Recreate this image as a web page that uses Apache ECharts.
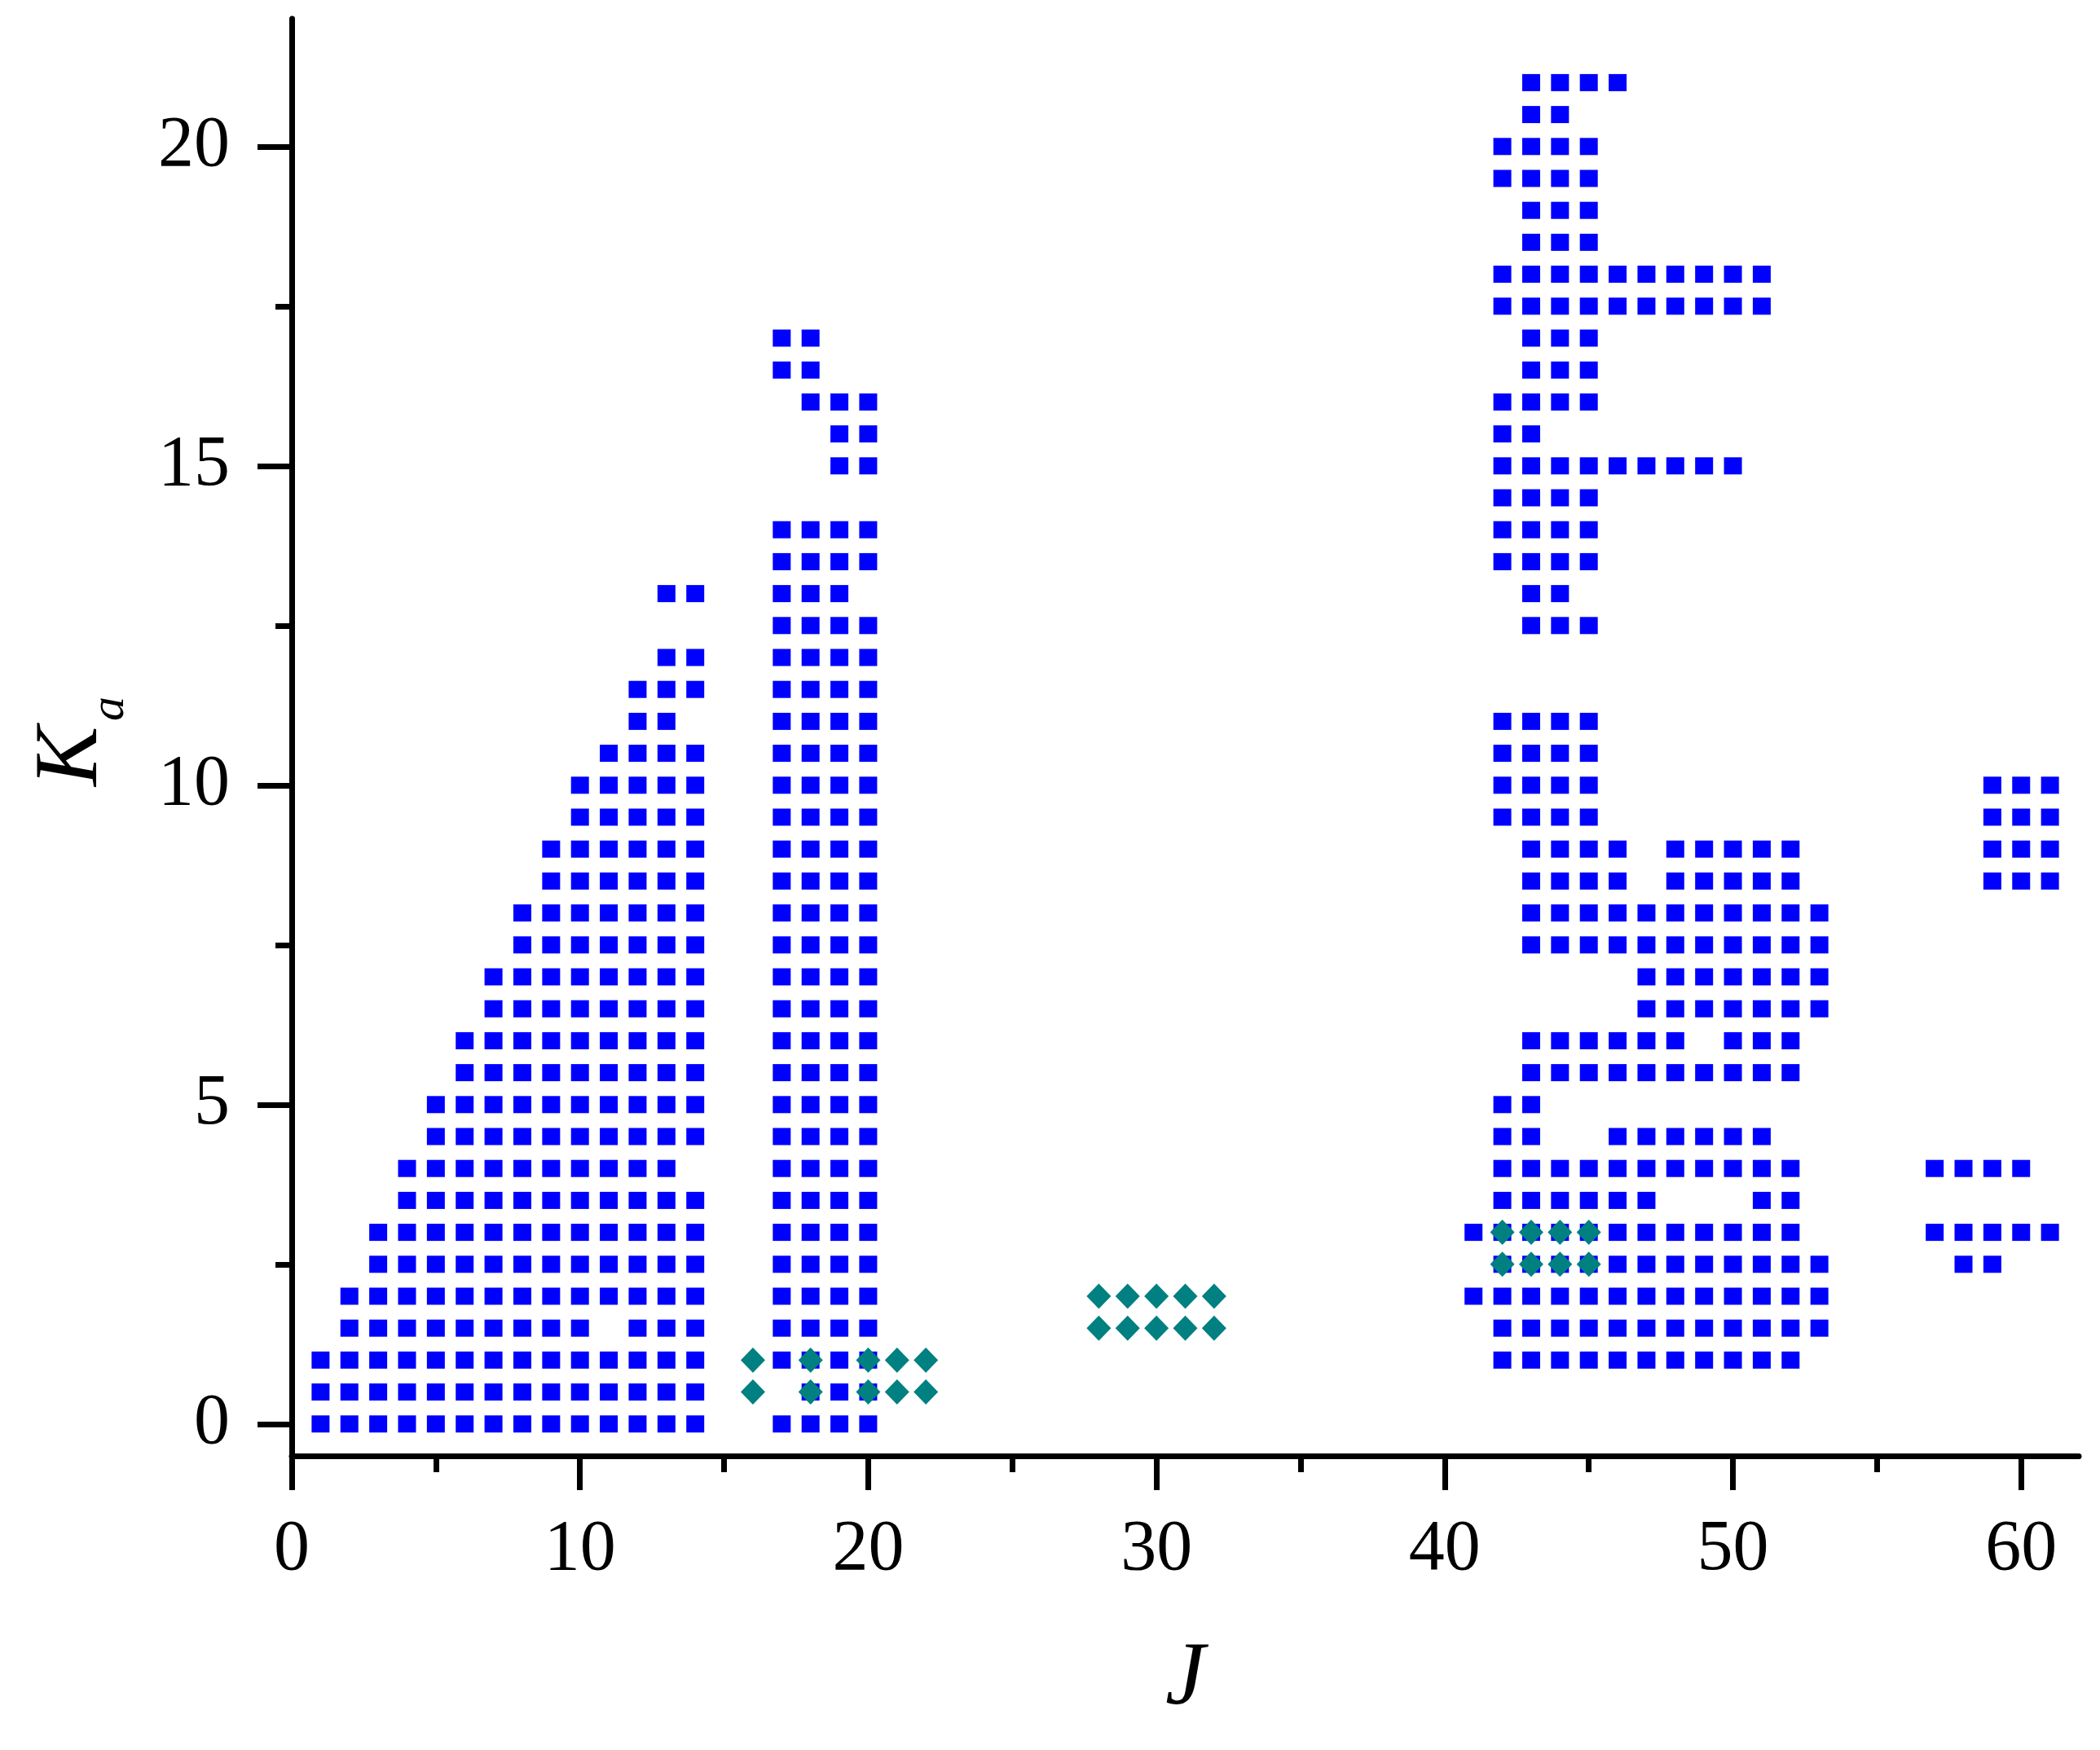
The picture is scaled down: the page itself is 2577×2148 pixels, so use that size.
<!DOCTYPE html>
<html>
<head>
<meta charset="utf-8">
<script src="https://cdn.jsdelivr.net/npm/echarts@6/dist/echarts.min.js"></script>
<style>
  html, body { margin: 0; padding: 0; background: #fff; }
  #chart { width: 2577px; height: 2148px; }
</style>
</head>
<body>
<div id="chart"></div>
<script>
// Tick labels / tick positions
const xTickLabels = [0, 10, 20, 30, 40, 50, 60];
const xMinorTicks = [5, 15, 25, 35, 45, 55];
const yTickLabels = [0, 5, 10, 15, 20];
const yMinorTicks = [2.5, 7.5, 12.5, 17.5];

// Blue squares: rows of [Ka, [J values]]
const leftClusterRows = [
  [0,   [1,2,3,4,5,6,7,8,9,10,11,12,13,14]],
  [0.5, [1,2,3,4,5,6,7,8,9,10,11,12,13,14]],
  [1,   [1,2,3,4,5,6,7,8,9,10,11,12,13,14]],
  [1.5, [2,3,4,5,6,7,8,9,10,12,13,14]],
  [2,   [2,3,4,5,6,7,8,9,10,11,12,13,14]],
  [2.5, [3,4,5,6,7,8,9,10,11,12,13,14]],
  [3,   [3,4,5,6,7,8,9,10,11,12,13,14]],
  [3.5, [4,5,6,7,8,9,10,11,12,13,14]],
  [4,   [4,5,6,7,8,9,10,11,12,13]],
  [4.5, [5,6,7,8,9,10,11,12,13,14]],
  [5,   [5,6,7,8,9,10,11,12,13,14]],
  [5.5, [6,7,8,9,10,11,12,13,14]],
  [6,   [6,7,8,9,10,11,12,13,14]],
  [6.5, [7,8,9,10,11,12,13,14]],
  [7,   [7,8,9,10,11,12,13,14]],
  [7.5, [8,9,10,11,12,13,14]],
  [8,   [8,9,10,11,12,13,14]],
  [8.5, [9,10,11,12,13,14]],
  [9,   [9,10,11,12,13,14]],
  [9.5, [10,11,12,13,14]],
  [10,  [10,11,12,13,14]],
  [10.5,[11,12,13,14]],
  [11,  [12,13]],
  [11.5,[12,13,14]],
  [12,  [13,14]],
  [13,  [13,14]]
];

const midClusterRows = [
  [0,   [17,18,19,20]],
  [0.5, [18,19,20]],
  [1,   [17,18,19,20]],
  [1.5, [17,18,19,20]],
  [2,   [17,18,19,20]],
  [2.5, [17,18,19,20]],
  [3,   [17,18,19,20]],
  [3.5, [17,18,19,20]],
  [4,   [17,18,19,20]],
  [4.5, [17,18,19,20]],
  [5,   [17,18,19,20]],
  [5.5, [17,18,19,20]],
  [6,   [17,18,19,20]],
  [6.5, [17,18,19,20]],
  [7,   [17,18,19,20]],
  [7.5, [17,18,19,20]],
  [8,   [17,18,19,20]],
  [8.5, [17,18,19,20]],
  [9,   [17,18,19,20]],
  [9.5, [17,18,19,20]],
  [10,  [17,18,19,20]],
  [10.5,[17,18,19,20]],
  [11,  [17,18,19,20]],
  [11.5,[17,18,19,20]],
  [12,  [17,18,19,20]],
  [12.5,[17,18,19,20]],
  [13,  [17,18,19]],
  [13.5,[17,18,19,20]],
  [14,  [17,18,19,20]],
  [15,  [19,20]],
  [15.5,[19,20]],
  [16,  [18,19,20]],
  [16.5,[17,18]],
  [17,  [17,18]]
];

const rightClusterRows = [
  [1,   [42,43,44,45,46,47,48,49,50,51,52]],
  [1.5, [42,43,44,45,46,47,48,49,50,51,52,53]],
  [2,   [41,42,43,44,45,46,47,48,49,50,51,52,53]],
  [2.5, [42,43,44,45,46,47,48,49,50,51,52,53]],
  [3,   [41,42,43,44,45,46,47,48,49,50,51,52]],
  [3.5, [42,43,44,45,46,47,51,52]],
  [4,   [42,43,44,45,46,47,48,49,50,51,52]],
  [4.5, [42,43,46,47,48,49,50,51]],
  [5,   [42,43]],
  [5.5, [43,44,45,46,47,48,49,50,51,52]],
  [6,   [43,44,45,46,47,48,50,51,52]],
  [6.5, [47,48,49,50,51,52,53]],
  [7,   [47,48,49,50,51,52,53]],
  [7.5, [43,44,45,46,47,48,49,50,51,52,53]],
  [8,   [43,44,45,46,47,48,49,50,51,52,53]],
  [8.5, [43,44,45,46,48,49,50,51,52]],
  [9,   [43,44,45,46,48,49,50,51,52]],
  [9.5, [42,43,44,45]],
  [10,  [42,43,44,45]],
  [10.5,[42,43,44,45]],
  [11,  [42,43,44,45]],
  [12.5,[43,44,45]],
  [13,  [43,44]],
  [13.5,[42,43,44,45]],
  [14,  [42,43,44,45]],
  [14.5,[42,43,44,45]],
  [15,  [42,43,44,45,46,47,48,49,50]],
  [15.5,[42,43]],
  [16,  [42,43,44,45]],
  [16.5,[43,44,45]],
  [17,  [43,44,45]],
  [17.5,[42,43,44,45,46,47,48,49,50,51]],
  [18,  [42,43,44,45,46,47,48,49,50,51]],
  [18.5,[43,44,45]],
  [19,  [43,44,45]],
  [19.5,[42,43,44,45]],
  [20,  [42,43,44,45]],
  [20.5,[43,44]],
  [21,  [43,44,45,46]]
];

const farRightClusterRows = [
  [2.5, [58,59]],
  [3,   [57,58,59,60,61]],
  [4,   [57,58,59,60]],
  [8.5, [59,60,61]],
  [9,   [59,60,61]],
  [9.5, [59,60,61]],
  [10,  [59,60,61]]
];

// Teal diamonds: rows of [Ka, [J values]]
const diamondRows = [
  [0.5, [16,18,20,21,22]],
  [1,   [16,18,20,21,22]],
  [1.5, [28,29,30,31,32]],
  [2,   [28,29,30,31,32]],
  [2.5, [42,43,44,45]],
  [3,   [42,43,44,45]]
];

function rowsToPoints(rows) {
  const pts = [];
  rows.forEach(([ka, js]) => js.forEach(j => pts.push([j, ka])));
  return pts;
}

const squarePoints = [].concat(
  rowsToPoints(leftClusterRows),
  rowsToPoints(midClusterRows),
  rowsToPoints(rightClusterRows),
  rowsToPoints(farRightClusterRows)
);
const diamondPoints = rowsToPoints(diamondRows);

const FONT = 'Liberation Serif';

const chart = echarts.init(document.getElementById('chart'), null, { renderer: 'canvas' });

const axisLineStyle = { color: '#000', width: 7 };

chart.setOption({
  animation: false,
  backgroundColor: '#ffffff',
  grid: { left: 358, right: 26, top: 23, bottom: 361, containLabel: false },
  xAxis: [
    {
      type: 'value', min: 0, max: 62,
      position: 'bottom',
      axisLine: { show: true, onZero: false, lineStyle: axisLineStyle },
      axisTick: { show: true, inside: false, length: 42, lineStyle: { color: '#000', width: 7 }, customValues: xTickLabels },
      axisLabel: { show: true, customValues: xTickLabels, margin: 72, color: '#000', fontSize: 88, fontFamily: FONT },
      splitLine: { show: false },
      name: 'J', nameLocation: 'middle', nameGap: 220,
      nameTextStyle: { fontFamily: FONT, fontStyle: 'italic', fontSize: 110, color: '#000' }
    },
    {
      type: 'value', min: 0, max: 62,
      position: 'bottom',
      axisLine: { show: false, onZero: false },
      axisTick: { show: true, inside: false, length: 20, lineStyle: { color: '#000', width: 7 }, customValues: xMinorTicks },
      axisLabel: { show: false },
      splitLine: { show: false }
    }
  ],
  yAxis: [
    {
      type: 'value', min: -0.5, max: 22,
      position: 'left',
      axisLine: { show: true, onZero: false, lineStyle: axisLineStyle },
      axisTick: { show: true, inside: false, length: 42, lineStyle: { color: '#000', width: 7 }, customValues: yTickLabels },
      axisLabel: { show: true, customValues: yTickLabels, margin: 76, color: '#000', fontSize: 88, fontFamily: FONT },
      splitLine: { show: false }
    },
    {
      type: 'value', min: -0.5, max: 22,
      position: 'left',
      axisLine: { show: false, onZero: false },
      axisTick: { show: true, inside: false, length: 20, lineStyle: { color: '#000', width: 7 }, customValues: yMinorTicks },
      axisLabel: { show: false },
      splitLine: { show: false }
    }
  ],
  graphic: [
    {
      type: 'text', x: 89, y: 965, rotation: Math.PI / 2,
      style: { text: 'K', fontFamily: FONT, fontStyle: 'italic', fontSize: 110, fill: '#000',
               align: 'left', verticalAlign: 'middle', textAlign: 'left', textVerticalAlign: 'middle' }
    },
    {
      type: 'text', x: 135, y: 885, rotation: Math.PI / 2,
      style: { text: 'a', fontFamily: FONT, fontStyle: 'italic', fontSize: 60, fill: '#000',
               align: 'left', verticalAlign: 'middle', textAlign: 'left', textVerticalAlign: 'middle' }
    }
  ],
  series: [
    {
      type: 'scatter', xAxisIndex: 0, yAxisIndex: 0,
      symbol: 'rect', symbolSize: [22, 21],
      itemStyle: { color: '#0000ff', opacity: 1 },
      data: squarePoints,
      z: 2
    },
    {
      type: 'scatter', xAxisIndex: 0, yAxisIndex: 0,
      symbol: 'diamond', symbolSize: [30, 31],
      itemStyle: { color: '#008080', opacity: 1 },
      data: diamondPoints,
      z: 3
    }
  ]
});
</script>
</body>
</html>
